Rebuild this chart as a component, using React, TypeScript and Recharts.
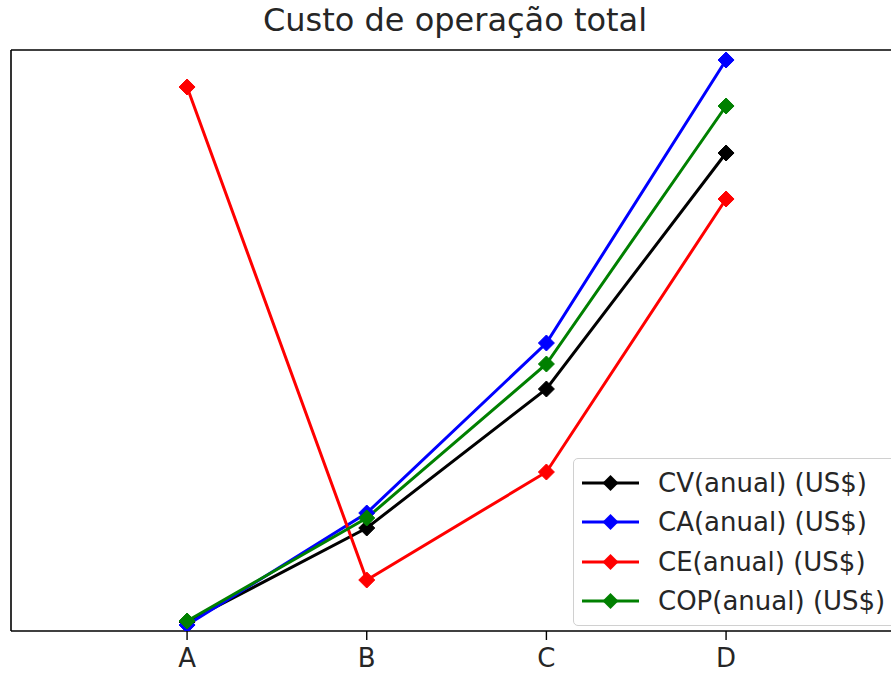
import { LineChart, Line, XAxis, YAxis, ReferenceLine } from "recharts";

const categories = ["A", "B", "C", "D"];
const cvAnual = [9, 103, 242, 478];
const caAnual = [6, 118, 288, 571];
const ceAnual = [544, 51, 159, 432];
const copAnual = [10, 113, 267, 525];

const series = [
  { key: "cv", name: "CV(anual) (US$)", color: "#000000" },
  { key: "ca", name: "CA(anual) (US$)", color: "#0000ff" },
  { key: "ce", name: "CE(anual) (US$)", color: "#ff0000" },
  { key: "cop", name: "COP(anual) (US$)", color: "#008000" },
];

const data = categories.map((c, i) => ({
  idx: i,
  cv: cvAnual[i],
  ca: caAnual[i],
  ce: ceAnual[i],
  cop: copAnual[i],
}));

const FONT = "'DejaVu Sans', sans-serif";
const Y_MAX = 581;
const X_MIN = -0.98;
const X_MAX = 3.918;

function Diamond(props: any) {
  const { cx, cy, stroke } = props;
  if (cx == null || cy == null) return null;
  const r = 8;
  return (
    <polygon
      points={`${cx},${cy - r} ${cx + r},${cy} ${cx},${cy + r} ${cx - r},${cy}`}
      fill={stroke}
      stroke={stroke}
    />
  );
}

function LegendBox() {
  return (
    <div
      style={{
        position: "absolute",
        left: 573,
        top: 458,
        border: "1.5px solid #d0d0d0",
        borderRadius: 5,
        background: "rgba(255,255,255,0.8)",
        padding: "4px 0 4px 7px",
        width: 330,
        boxSizing: "border-box",
        fontFamily: FONT,
        fontSize: 26,
        color: "#262626",
      }}
    >
      {series.map((s) => (
        <div
          key={s.key}
          style={{ display: "flex", alignItems: "center", height: 39.5 }}
        >
          <svg width={60} height={20} style={{ marginRight: 17 }}>
            <line x1={1} y1={10} x2={58} y2={10} stroke={s.color} strokeWidth={3} />
            <polygon points="29.5,2 37.5,10 29.5,18 21.5,10" fill={s.color} />
          </svg>
          <span style={{ whiteSpace: "nowrap" }}>{s.name}</span>
        </div>
      ))}
    </div>
  );
}

export default function App() {
  return (
    <div
      style={{
        position: "absolute",
        left: 0,
        top: 0,
        width: 891,
        height: 677,
        overflow: "hidden",
        background: "#fff",
      }}
    >
      <div
        style={{
          position: "absolute",
          left: 0,
          width: 910,
          top: 1,
          textAlign: "center",
          fontFamily: FONT,
          fontSize: 32,
          color: "#262626",
        }}
      >
        Custo de operação total
      </div>
      <LineChart
        width={891}
        height={677}
        data={data}
        margin={{ top: 50, right: 0, bottom: 0, left: 11 }}
      >
        <XAxis
          dataKey="idx"
          type="number"
          domain={[X_MIN, X_MAX]}
          allowDataOverflow
          ticks={[0, 1, 2, 3]}
          tickFormatter={(v: number) => categories[v] ?? ""}
          height={46}
          axisLine={{ stroke: "#000", strokeWidth: 1.6 }}
          tickLine={{ stroke: "#000", strokeWidth: 1.4 }}
          tickSize={9}
          tick={{ fontSize: 26, fontFamily: FONT, fill: "#262626", dy: 7 }}
        />
        <YAxis
          type="number"
          domain={[0, Y_MAX]}
          allowDataOverflow
          width={0}
          tick={false}
          tickLine={false}
          axisLine={false}
        />
        <ReferenceLine y={Y_MAX} stroke="#000" strokeWidth={1.6} />
        <ReferenceLine x={X_MIN} stroke="#000" strokeWidth={1.6} />
        {series.map((s) => (
          <Line
            key={s.key}
            dataKey={s.key}
            name={s.name}
            type="linear"
            stroke={s.color}
            strokeWidth={3}
            dot={<Diamond />}
            activeDot={false}
            isAnimationActive={false}
          />
        ))}
      </LineChart>
      <LegendBox />
    </div>
  );
}
